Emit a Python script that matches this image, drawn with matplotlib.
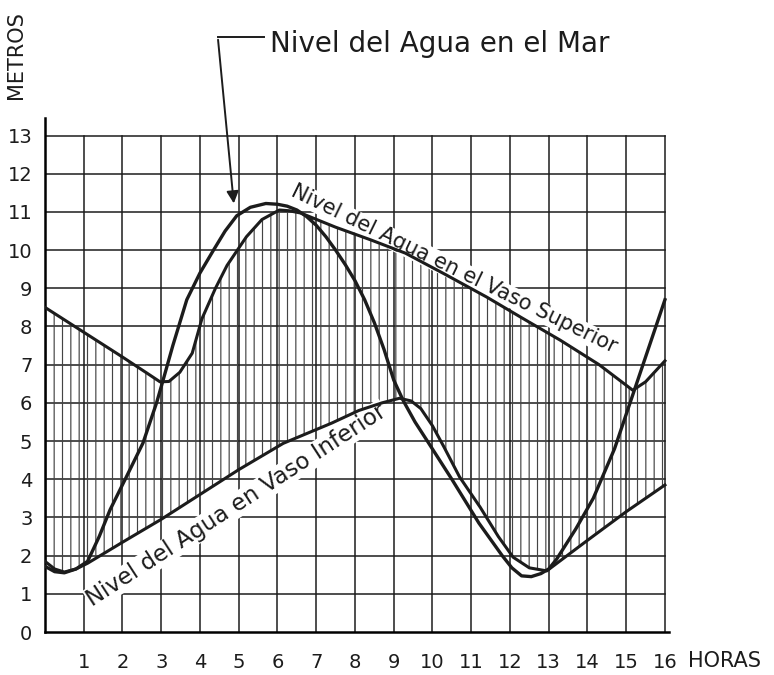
import numpy as np
import matplotlib
matplotlib.use('Agg')
import matplotlib.pyplot as plt

# Plot params
fnt = 14
ink = '#1c1c1c'
plt.rcParams['hatch.linewidth'] = 0.85

# Data (horas, metros)
mar_h = [0, 0.25, 0.5, 0.8, 1.1, 1.4, 1.68, 2.1, 2.53, 2.88, 3.05, 3.3, 3.66, 4.0, 4.35,
         4.65, 4.95, 5.3, 5.7, 6.0, 6.25, 6.5, 6.75, 7.0, 7.25, 7.5, 7.75, 8.0, 8.25, 8.5,
         8.75, 9.0, 9.25, 9.55, 9.9, 10.5, 11.2, 11.8, 12.05, 12.3, 12.55, 12.8, 13.0, 13.2,
         13.7, 14.15, 14.7, 15.2, 15.6, 16.0]
mar_m = [1.72, 1.58, 1.55, 1.65, 1.85, 2.5, 3.2, 4.06, 4.95, 6.0, 6.6, 7.5, 8.7, 9.4, 10.0,
         10.5, 10.9, 11.12, 11.22, 11.2, 11.15, 11.05, 10.88, 10.65, 10.35, 10.0, 9.62, 9.2, 8.7, 8.1,
         7.4, 6.6, 6.05, 5.5, 4.95, 4.0, 2.85, 2.0, 1.68, 1.47, 1.45, 1.53, 1.65, 1.9,
         2.7, 3.5, 4.8, 6.3, 7.5, 8.7]

sup_h = [0, 1, 2, 2.6, 2.97, 3.2, 3.48, 3.8, 4.05, 4.4, 4.7, 5.2, 5.6, 6.05, 6.3, 6.6, 7.5,
         8.4, 9.3, 10.3, 11.4, 12.3, 13.3, 14.3, 15.17, 15.5, 16.0]
sup_m = [8.5, 7.85, 7.2, 6.8, 6.55, 6.56, 6.8, 7.3, 8.2, 9.0, 9.6, 10.35, 10.8, 11.05, 11.03, 10.97, 10.6,
         10.27, 9.92, 9.38, 8.77, 8.23, 7.64, 7.0, 6.33, 6.55, 7.1]

inf_h = [0, 0.25, 0.5, 0.8, 1.1, 2.0, 3.0, 4.0, 5.0, 6.15, 7.4, 8.1, 8.7, 9.15, 9.45, 9.7, 10.0,
         10.3, 10.7, 11.23, 11.7, 12.08, 12.5, 12.95, 14.0, 15.0, 16.0]
inf_m = [1.85, 1.65, 1.57, 1.65, 1.8, 2.35, 2.95, 3.6, 4.25, 4.94, 5.47, 5.8, 6.0, 6.12, 6.05, 5.85, 5.4,
         4.84, 4.06, 3.27, 2.5, 1.96, 1.68, 1.6, 2.4, 3.15, 3.85]

horas = list(range(1, 17))
metros = list(range(0, 14))

fig = plt.figure(figsize=(7.74, 6.75), dpi=100)
ax = fig.add_axes([0.0581, 0.0637, 0.806, 0.761])
ax.set_xlim(0, 16.1)
ax.set_ylim(0, 13.45)

# grid
for h in horas:
    ax.plot([h, h], [0, 13], color=ink, lw=1.1, zorder=1)
for m in metros[1:]:
    ax.plot([0, 16], [m, m], color=ink, lw=1.1, zorder=1)

# hatched area between both reservoirs
ax.fill(np.r_[sup_h, inf_h[::-1]], np.r_[sup_m, inf_m[::-1]], fill=False, hatch='||',
        edgecolor='#444444', linewidth=0, zorder=2)

# curves
ax.plot(mar_h, mar_m, color=ink, lw=2.4, zorder=4, solid_joinstyle='round')
ax.plot(sup_h, sup_m, color=ink, lw=2.2, zorder=4, solid_joinstyle='round')
ax.plot(inf_h, inf_m, color=ink, lw=2.2, zorder=4, solid_joinstyle='round')

# axes
for s in ['top', 'right']:
    ax.spines[s].set_visible(False)
ax.spines['left'].set_linewidth(1.8)
ax.spines['bottom'].set_linewidth(1.8)
ax.set_xticks(horas)
ax.set_yticks(metros)
ax.tick_params(length=0, labelsize=fnt, colors=ink)
ax.tick_params(axis='x', pad=15)
ax.tick_params(axis='y', pad=9)

ax.text(16.6, -0.75, 'HORAS', fontsize=15, color=ink, ha='left', va='center', clip_on=False)
fig.text(0.021, 0.918, 'METROS', fontsize=15, color=ink, rotation=90, ha='center', va='center')

# curve labels
ax.text(10.55, 9.5, 'Nivel del Agua en el Vaso Superior', fontsize=15, color=ink,
        rotation=-26, rotation_mode='anchor', ha='center', va='center', zorder=3,
        bbox=dict(facecolor='white', edgecolor='none', pad=0.5))
ax.text(4.95, 3.32, 'Nivel del Agua en Vaso Inferior', fontsize=16.5, color=ink,
        rotation=33, rotation_mode='anchor', ha='center', va='center', zorder=3,
        bbox=dict(facecolor='white', edgecolor='none', pad=0.5))

# sea level annotation with arrow
ax.text(5.8, 15.4, 'Nivel del Agua en el Mar', fontsize=20, color=ink,
        ha='left', va='center', clip_on=False)
ax.plot([5.65, 4.46], [15.58, 15.58], color=ink, lw=1.4, clip_on=False)
ax.annotate('', xy=(4.88, 11.15), xytext=(4.46, 15.58),
            arrowprops=dict(arrowstyle='-|>', color=ink, lw=1.4, mutation_scale=18),
            annotation_clip=False)

fig.savefig('out.png', dpi=100, facecolor='white')
